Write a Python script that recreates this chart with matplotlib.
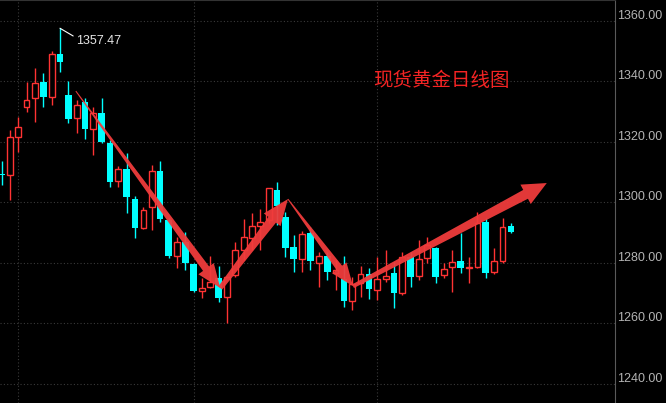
# spot gold daily candlestick chart with trend arrows
import matplotlib.pyplot as plt
import numpy as np
from matplotlib.patches import Polygon
from matplotlib import transforms

# daily OHLC values
opens = [1309.2, 1308.9, 1321.4, 1331.4, 1334.3, 1339.6, 1334.7, 1348.9, 1335.3, 1327.7,
         1333.0, 1324.1, 1329.4, 1319.5, 1306.9, 1310.9, 1300.9, 1291.4, 1298.3, 1310.2,
         1294.0, 1282.1, 1286.7, 1279.5, 1270.5, 1271.9, 1274.8, 1268.5, 1275.8, 1284.1,
         1288.1, 1292.0, 1294.0, 1303.9, 1295.0, 1285.1, 1281.1, 1289.7, 1279.8, 1282.1,
         1276.5, 1274.5, 1267.2, 1273.2, 1276.1, 1270.9, 1274.5, 1276.5, 1269.9, 1281.8,
         1275.5, 1281.4, 1284.7, 1275.8, 1278.5, 1280.4, 1278.1, 1278.5, 1293.3, 1276.8,
         1280.4, 1292.0]
highs = [1313.5, 1323.8, 1328.1, 1339.6, 1344.2, 1342.6, 1349.9, 1357.47, 1340.0, 1333.7,
         1334.3, 1331.4, 1334.3, 1320.4, 1311.9, 1316.1, 1301.9, 1298.3, 1312.2, 1313.5,
         1294.7, 1288.4, 1290.0, 1279.8, 1274.8, 1282.1, 1278.8, 1275.2, 1286.7, 1294.3,
         1296.3, 1297.6, 1304.6, 1306.6, 1296.6, 1289.0, 1290.4, 1291.7, 1283.4, 1283.4,
         1280.8, 1282.1, 1275.2, 1278.8, 1278.1, 1281.8, 1284.1, 1280.1, 1283.4, 1283.4,
         1287.4, 1288.4, 1285.1, 1279.8, 1284.1, 1289.7, 1281.8, 1296.6, 1294.7, 1284.7,
         1294.7, 1293.0]
lows = [1305.6, 1300.6, 1316.5, 1329.7, 1326.4, 1331.4, 1332.0, 1342.9, 1326.1, 1322.8,
        1320.8, 1315.5, 1319.5, 1304.9, 1304.9, 1296.3, 1288.1, 1291.0, 1290.7, 1293.3,
        1281.4, 1278.1, 1277.5, 1270.2, 1268.2, 1271.5, 1266.9, 1260.0, 1275.2, 1280.8,
        1284.1, 1284.1, 1293.0, 1292.3, 1281.8, 1276.8, 1276.8, 1277.5, 1271.9, 1274.2,
        1270.9, 1265.2, 1264.2, 1268.5, 1267.9, 1267.6, 1273.5, 1264.9, 1269.2, 1271.9,
        1274.2, 1279.8, 1273.2, 1274.8, 1270.2, 1276.5, 1273.2, 1278.1, 1274.8, 1276.1,
        1279.8, 1289.7]
closes = [1308.9, 1321.4, 1324.7, 1333.7, 1339.3, 1334.7, 1348.9, 1346.2, 1327.4, 1332.0,
          1324.1, 1329.4, 1319.8, 1306.6, 1310.9, 1301.6, 1291.4, 1297.3, 1310.2, 1294.3,
          1282.1, 1286.7, 1279.8, 1270.5, 1271.5, 1273.5, 1268.2, 1275.2, 1284.1, 1288.4,
          1292.0, 1293.3, 1304.6, 1298.6, 1284.7, 1281.1, 1289.4, 1280.4, 1282.1, 1276.8,
          1277.5, 1267.2, 1272.8, 1276.1, 1271.2, 1274.5, 1275.5, 1269.9, 1281.8, 1275.2,
          1281.1, 1285.8, 1275.2, 1277.8, 1280.1, 1278.1, 1278.5, 1293.0, 1276.5, 1280.4,
          1291.7, 1290.0]

month_starts = [2, 23, 45]
price_ticks = [1240, 1260, 1280, 1300, 1320, 1340, 1360]
title = '现货黄金日线图'
peak_idx = 7
peak_label = '1357.47'

# trend arrows: (start, tip) as (candle index, price), plus widths in pixels
arrows = [((8.9, 1336.7), (26.2, 1271.6), 1.0, 7.5, 19, 24),
          ((26.2, 1271.6), (34.3, 1301.0), 5.0, 9.5, 21, 26),
          ((34.3, 1301.0), (42.1, 1272.2), 1.0, 7.0, 18, 23),
          ((42.1, 1272.2), (65.3, 1306.3), 4.0, 10.0, 22, 24)]

up_col = '#ff3333'
dn_col = '#00ffff'

fig = plt.figure(figsize=(6.66, 4.03), dpi=100, facecolor='black')
ax = fig.add_axes([0, 0, 615 / 666, 1])
ax.set_facecolor('black')
ax.set_xlim(-0.18, 73.47)
ax.set_ylim(1233.6, 1366.8)

o = np.array(opens); h = np.array(highs); l = np.array(lows); c = np.array(closes)
x = np.arange(len(o))
up = c >= o
dn = ~up

# grid
for p in price_ticks:
    ax.axhline(p, color='#3a3a3a', lw=0.8, ls=(0, (1, 2)), zorder=0)
for m in month_starts:
    ax.axvline(m, color='#3a3a3a', lw=0.8, ls=(0, (1, 2)), zorder=0)

# wicks
ax.vlines(x[dn], l[dn], h[dn], color=dn_col, lw=1, zorder=2)
ax.vlines(x[up], c[up], h[up], color=up_col, lw=1, zorder=2)
ax.vlines(x[up], l[up], o[up], color=up_col, lw=1, zorder=2)

# bodies
ax.bar(x[dn], np.maximum(o[dn] - c[dn], 0.35), bottom=c[dn], width=0.8,
       color=dn_col, lw=0, zorder=3)
ax.bar(x[up], np.maximum(c[up] - o[up], 0.35), bottom=o[up], width=0.7,
       facecolor='black', edgecolor=up_col, lw=1, zorder=3)


def fat_arrow(p0, p1, w0, w1, hw, hl):
    a = ax.transData.transform(p0)
    b = ax.transData.transform(p1)
    d = b - a
    u = d / np.hypot(*d)
    n = np.array([-u[1], u[0]])
    base = b - u * hl
    pts = [a + n * w0 / 2, base + n * w1 / 2, base + n * hw / 2, b,
           base - n * hw / 2, base - n * w1 / 2, a - n * w0 / 2]
    poly = Polygon(ax.transData.inverted().transform(pts), closed=True,
                   facecolor='#f03c3c', edgecolor='none', alpha=0.95, zorder=5)
    ax.add_patch(poly)


for a in arrows:
    fat_arrow(*a)

# peak label
ax.annotate(peak_label, xy=(peak_idx, highs[peak_idx]), xytext=(16, -13),
            textcoords='offset pixels', color='#e6e6e6', fontsize=9,
            family='Liberation Sans', ha='left', va='center',
            arrowprops=dict(arrowstyle='-', color='white', lw=0.8,
                            shrinkA=0, shrinkB=0, relpos=(0, 0.8)))

ax.text(44.5, 1340.3, title, color='#f42424', fontsize=14,
        family=['Noto Sans CJK SC', 'DejaVu Sans'], ha='left', va='center', zorder=6)

# price labels on the right, sitting just above their grid line
trans = transforms.offset_copy(ax.get_yaxis_transform(), fig=fig, y=2, units='dots')
for p in price_ticks:
    ax.text(1.004, p, '%.2f' % p, transform=trans, color='#b4b4b4', fontsize=9,
            family='Liberation Sans', ha='left', va='baseline', clip_on=False)

ax.set_xticks([])
ax.set_yticks([])
for s in ['left', 'bottom']:
    ax.spines[s].set_visible(False)
ax.spines['right'].set_color('#5a5a5a')
ax.spines['top'].set_color('#333333')

fig.savefig('out.png', dpi=100, facecolor='black')
